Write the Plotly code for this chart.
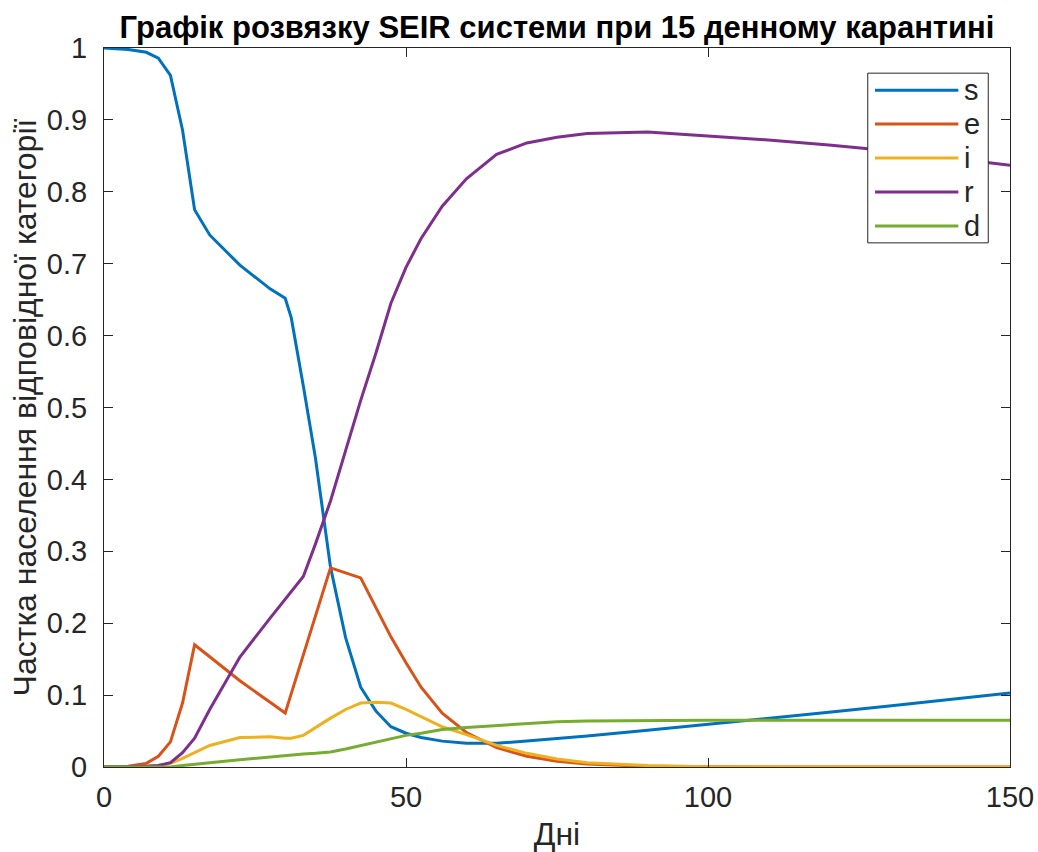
import plotly.graph_objects as go

# SEIR model solution with a 15-day quarantine (fractions of population)
days = [0, 4, 7, 9, 11, 13, 15, 17.5, 22.5, 27.5, 30, 31, 33, 35, 37.5, 40,
        42.5, 45, 47.5, 50, 52.5, 56, 60, 65, 70, 75, 80, 90, 100, 110, 120,
        130, 140, 150]

s_vals = [1.0, 0.998, 0.994, 0.986, 0.962, 0.886, 0.775, 0.740, 0.698, 0.665,
          0.652, 0.625, 0.530, 0.430, 0.278, 0.180, 0.111, 0.078, 0.056, 0.047,
          0.041, 0.036, 0.033, 0.033, 0.036, 0.039, 0.043, 0.051, 0.059, 0.067,
          0.076, 0.085, 0.094, 0.103]

e_vals = [0.0, 0.001, 0.005, 0.015, 0.035, 0.089, 0.170, 0.153, 0.120, 0.090,
          0.075, 0.102, 0.156, 0.210, 0.277, 0.270, 0.263, 0.222, 0.181, 0.145,
          0.111, 0.075, 0.048, 0.027, 0.015, 0.008, 0.004, 0.001, 0.0, 0.0,
          0.0, 0.0, 0.0, 0.0]

i_vals = [0.0, 0.0, 0.001, 0.002, 0.005, 0.012, 0.020, 0.030, 0.041, 0.042,
          0.040, 0.040, 0.044, 0.055, 0.068, 0.080, 0.089, 0.090, 0.089, 0.080,
          0.070, 0.056, 0.045, 0.030, 0.019, 0.011, 0.006, 0.002, 0.0005, 0.0,
          0.0, 0.0, 0.0, 0.0]

r_vals = [0.0, 0.0, 0.001, 0.002, 0.006, 0.020, 0.040, 0.080, 0.153, 0.207,
          0.234, 0.245, 0.265, 0.310, 0.370, 0.440, 0.510, 0.575, 0.645, 0.695,
          0.735, 0.780, 0.818, 0.852, 0.868, 0.876, 0.881, 0.883, 0.878, 0.872,
          0.865, 0.857, 0.847, 0.837]

d_vals = [0.0, 0.0, 0.0, 0.0, 0.0, 0.002, 0.004, 0.006, 0.010, 0.014, 0.016,
          0.017, 0.018, 0.019, 0.021, 0.025, 0.030, 0.035, 0.040, 0.044, 0.047,
          0.052, 0.055, 0.058, 0.061, 0.063, 0.064, 0.065, 0.065, 0.065, 0.065,
          0.065, 0.065, 0.065]

series_names = ["s", "e", "i", "r", "d"]
series_values = [s_vals, e_vals, i_vals, r_vals, d_vals]
series_colors = ["#0072BD", "#D95319", "#EDB120", "#7E2F8E", "#77AC30"]

x_ticks = [0, 50, 100, 150]
y_ticks = [0, 0.1, 0.2, 0.3, 0.4, 0.5, 0.6, 0.7, 0.8, 0.9, 1]
y_tick_text = ["0", "0.1", "0.2", "0.3", "0.4", "0.5", "0.6", "0.7", "0.8", "0.9", "1"]

FONT = "Liberation Sans, Arial, Helvetica, sans-serif"
AXIS_COLOR = "#262626"

fig = go.Figure()
for name, vals, color in zip(series_names, series_values, series_colors):
    fig.add_trace(go.Scatter(x=days, y=vals, mode="lines", name=name,
                             line=dict(color=color, width=3),
                             showlegend=False))

# Boxed legend in the upper-right corner of the axes
box_x0, box_x1 = 0.843, 0.976
box_y1, box_y0 = 0.965, 0.729
row_h = (box_y1 - box_y0) / len(series_names)
fig.add_shape(type="rect", xref="paper", yref="paper",
              x0=box_x0, x1=box_x1, y0=box_y0, y1=box_y1,
              line=dict(color=AXIS_COLOR, width=1), fillcolor="white")
for k, (name, color) in enumerate(zip(series_names, series_colors)):
    yc = box_y1 - row_h * (k + 0.5)
    fig.add_shape(type="line", xref="paper", yref="paper",
                  x0=box_x0 + 0.008, x1=box_x0 + 0.1, y0=yc, y1=yc,
                  line=dict(color=color, width=3))
    fig.add_annotation(xref="paper", yref="paper", x=box_x0 + 0.104, y=yc,
                       text=name, showarrow=False, xanchor="left",
                       yanchor="middle",
                       font=dict(family=FONT, size=29, color=AXIS_COLOR))

fig.update_layout(
    width=1038, height=852,
    margin=dict(l=104, r=28, t=48, b=85),
    paper_bgcolor="white", plot_bgcolor="white",
    font=dict(family=FONT, color=AXIS_COLOR),
    title=dict(text="<b>Графік розвязку SEIR системи при 15 денному карантині</b>",
               x=0.5, xref="paper", xanchor="center",
               y=1 - 27 / 852, yref="container", yanchor="middle",
               font=dict(family=FONT, size=31, color="black")),
)
fig.update_xaxes(range=[0, 150], tickvals=x_ticks, ticks="inside", ticklen=9,
                 tickcolor=AXIS_COLOR, showline=True, linecolor=AXIS_COLOR,
                 linewidth=1, mirror="allticks", showgrid=False, zeroline=False,
                 tickfont=dict(family=FONT, size=29, color=AXIS_COLOR),
                 ticklabelstandoff=4, automargin=False,
                 title=dict(text="Дні", standoff=14,
                            font=dict(family=FONT, size=32, color=AXIS_COLOR)))
fig.update_yaxes(range=[0, 1], tickvals=y_ticks, ticktext=y_tick_text,
                 ticks="inside", ticklen=9, tickcolor=AXIS_COLOR,
                 showline=True, linecolor=AXIS_COLOR, linewidth=1,
                 mirror="allticks", showgrid=False, zeroline=False,
                 tickfont=dict(family=FONT, size=29, color=AXIS_COLOR),
                 ticklabelstandoff=10, automargin=False,
                 title=dict(text="Частка населення відповідної категорії",
                            standoff=0,
                            font=dict(family=FONT, size=32, color=AXIS_COLOR)))

fig.write_html("out.html")
